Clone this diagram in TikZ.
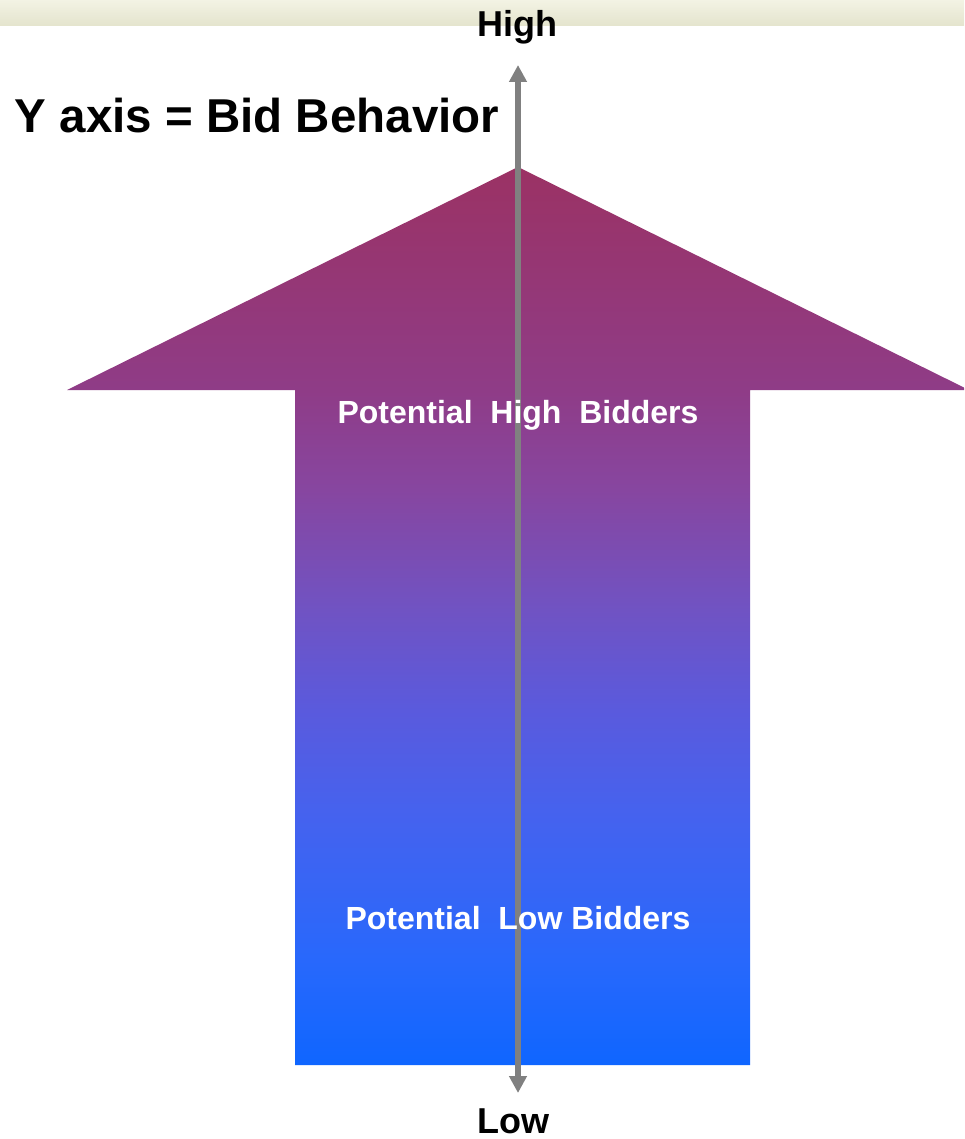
\documentclass[tikz,border=0pt]{standalone}
\usepackage{fontspec}
\setmainfont{Liberation Sans}
\usetikzlibrary{arrows.meta}
\definecolor{c0}{RGB}{15,102,255}
\definecolor{c1}{RGB}{40,104,252}
\definecolor{c2}{RGB}{70,98,238}
\definecolor{c3}{RGB}{90,90,221}
\definecolor{c4}{RGB}{112,83,195}
\definecolor{c5}{RGB}{135,70,160}
\definecolor{c6}{RGB}{143,60,135}
\definecolor{c7}{RGB}{155,50,100}
\definecolor{bandA}{RGB}{243,243,228}
\definecolor{bandB}{RGB}{228,228,205}
\definecolor{axisgray}{RGB}{128,128,128}
\pgfdeclareverticalshading{bigarrow}{100bp}{color(0bp)=(c0); color(25bp)=(c0); color(30.85bp)=(c1); color(39.2bp)=(c2); color(44.77bp)=(c3); color(50.33bp)=(c4); color(57.02bp)=(c5); color(62.58bp)=(c6); color(75bp)=(c7); color(100bp)=(c7)}
\tikzset{
  lbl/.style={font=\bfseries, text=black, inner sep=0pt},
  inlbl/.style={font=\bfseries\fontsize{32}{38}\selectfont, text=white, inner sep=0pt},
  axisline/.style={draw=axisgray, line width=5.5pt, {Triangle[width=17pt,length=17pt]}-{Triangle[width=17pt,length=17pt]}}
}
\begin{document}
\begin{tikzpicture}[x=1pt,y=-1pt]
\useasboundingbox (0,0) rectangle (964,1139);
\clip (0,0) rectangle (964,1139);
\fill[white] (0,0) rectangle (964,1139);
\shade[top color=bandA, bottom color=bandB] (0,0) rectangle (964,26);
\shade[shading=bigarrow] (518,167) -- (969,390) -- (750,390) -- (750,1065) -- (295,1065) -- (295,390) -- (67,390) -- cycle;
\coordinate (top) at (518,65);
\coordinate (bot) at (518,1093);
\draw[axisline] (bot) -- (top);
\node[lbl, font=\bfseries\fontsize{36}{42}\selectfont] (high) at (517,27) {High};
\node[lbl, font=\bfseries\fontsize{36}{42}\selectfont] (low) at (513,1121) {Low};
\node[lbl, font=\bfseries\fontsize{47.5}{56}\selectfont] (yaxis) at (257,116) {Y axis = Bid Behavior};
\node[inlbl] (hb) at (518,415) {Potential\ \ High\ \ Bidders};
\node[inlbl] (lb) at (518,918) {Potential\ \ Low Bidders};
\end{tikzpicture}
\end{document}
